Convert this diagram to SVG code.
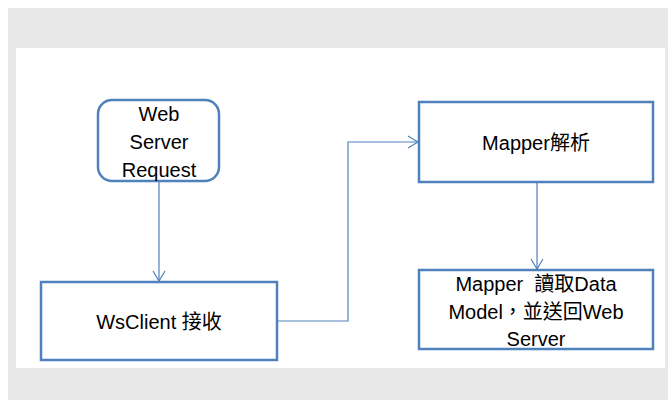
<svg xmlns="http://www.w3.org/2000/svg" width="668" height="400" viewBox="0 0 668 400">
<defs>
<style>
.box{fill:#ffffff;stroke:#4F81BD;stroke-width:2.5}
.t{font-family:"Liberation Sans","Noto Sans CJK TC",sans-serif;font-size:20px;fill:#000;text-anchor:middle}
.c{fill:none;stroke:#4F81BD;stroke-width:1.2}
</style>
<marker id="arr" markerWidth="14" markerHeight="14" refX="11" refY="7" orient="auto" markerUnits="userSpaceOnUse">
<path d="M1,1 L11,7 L1,13" fill="none" stroke="#4F81BD" stroke-width="1.2"/>
</marker>
</defs>
<rect x="8" y="8" width="660" height="392" fill="#E8E8E8"/>
<rect x="16" y="48" width="649" height="320" fill="#ffffff"/>
<g id="connectors">
<path class="c" d="M159,181 L159,281" marker-end="url(#arr)"/>
<path class="c" d="M277,321 L348,321 L348,142 L418,142" marker-end="url(#arr)"/>
<path class="c" d="M537,182 L537,269" marker-end="url(#arr)"/>
</g>
<g id="node-request">
<rect class="box" x="98" y="100" width="121" height="81" rx="14"/>
<text class="t" x="159" y="121">Web</text>
<text class="t" x="159" y="149">Server</text>
<text class="t" x="159" y="177">Request</text>
</g>
<g id="node-wsclient">
<rect class="box" x="41" y="282" width="236" height="78"/>
<text class="t" x="159" y="329">WsClient 接收</text>
</g>
<g id="node-mapper">
<rect class="box" x="419" y="102" width="234" height="80"/>
<text class="t" x="536" y="150">Mapper解析</text>
</g>
<g id="node-read">
<rect class="box" x="419" y="270" width="234" height="79"/>
<text class="t" x="536" y="291" xml:space="preserve">Mapper  讀取Data</text>
<text class="t" x="536" y="319">Model，並送回Web</text>
<text class="t" x="536" y="346">Server</text>
</g>
</svg>
